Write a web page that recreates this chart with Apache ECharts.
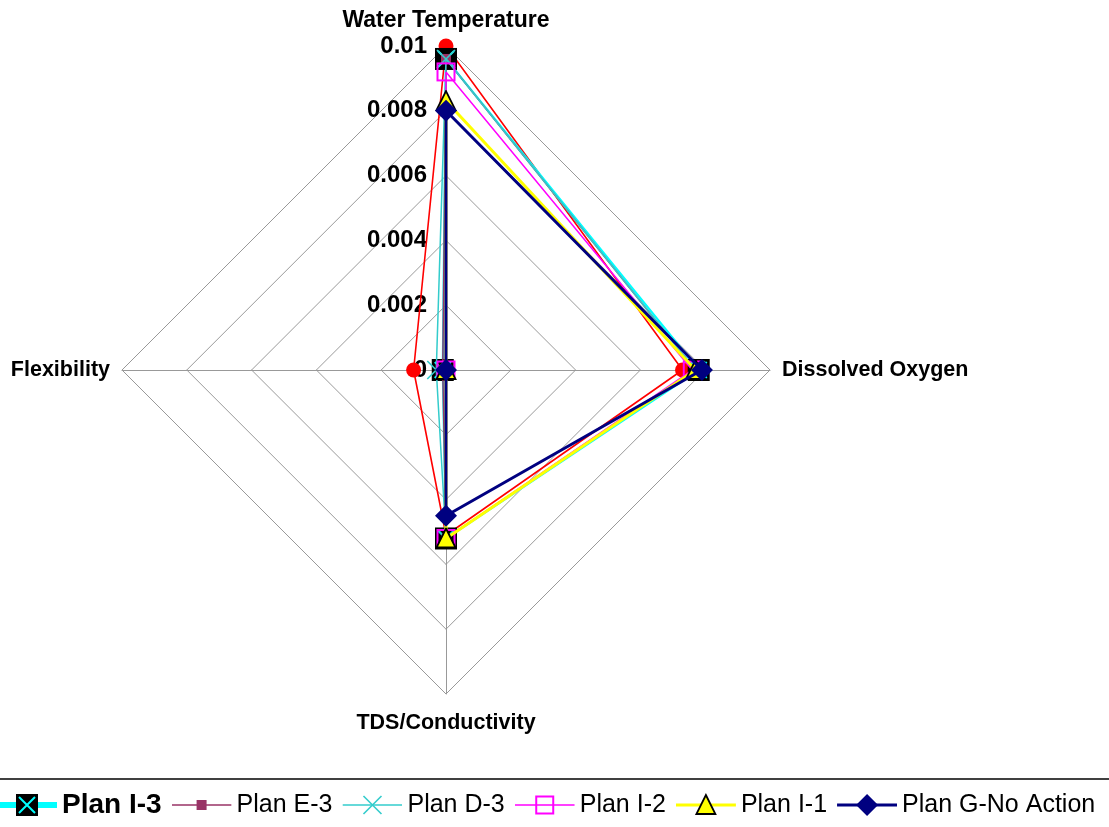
<!DOCTYPE html>
<html>
<head>
<meta charset="utf-8">
<script src="https://cdn.jsdelivr.net/npm/echarts@6/dist/echarts.min.js"></script>
<style>
  html, body { margin: 0; padding: 0; background: #fff; }
  #chart { width: 1109px; height: 827px; }
</style>
</head>
<body>
<div id="chart"></div>
<script>
// eixos (sentido anti-horário a partir do topo)
const indicadores = ["Water Temperature", "Flexibility", "TDS/Conductivity", "Dissolved Oxygen"];
const maxValor = 0.01;

// valores, na ordem dos indicadores
const planA = [0.0100, 0.0010, 0.0051, 0.0073];
const planI3 = [0.0096, 0.0001, 0.0052, 0.0078];
const planE3 = [0.0096, 0.0001, 0.0052, 0.0077];
const planD3 = [0.0096, 0.0003, 0.0052, 0.0077];
const planI2 = [0.0092, 0.0000, 0.0052, 0.0076];
const planI1 = [0.0083, 0.0000, 0.0052, 0.0077];
const planG = [0.0080, 0.0000, 0.0045, 0.0079];

const nomes = ["Plan I-3", "Plan E-3", "Plan D-3", "Plan I-2", "Plan I-1", "Plan G-No Action"];

function svgUrl(w, h, corpo) {
  const svg = `<svg xmlns="http://www.w3.org/2000/svg" width="${w}" height="${h}" viewBox="0 0 ${w} ${h}">${corpo}</svg>`;
  return "image://data:image/svg+xml;charset=utf-8," + encodeURIComponent(svg);
}

// marcadores desenhados em svg (c, d = centro)
const marcas = {
  a: (c, d) => `<circle cx="${c}" cy="${d}" r="7.5" fill="#ff0000"/>`,
  i3: (c, d) => `<rect x="${c - 11}" y="${d - 11}" width="22" height="22" fill="#000"/><path d="M${c - 8} ${d - 8}L${c + 8} ${d + 8}M${c + 8} ${d - 8}L${c - 8} ${d + 8}" stroke="#00ffff" stroke-width="2"/>`,
  e3: (c, d) => `<rect x="${c - 5}" y="${d - 5}" width="10" height="10" fill="#993366"/>`,
  d3: (c, d) => `<path d="M${c - 9} ${d - 9}L${c + 9} ${d + 9}M${c + 9} ${d - 9}L${c - 9} ${d + 9}" stroke="#33cccc" stroke-width="1.6" fill="none"/>`,
  i2: (c, d) => `<rect x="${c - 8.5}" y="${d - 8.5}" width="17" height="17" fill="none" stroke="#ff00ff" stroke-width="2"/>`,
  i1: (c, d) => `<path d="M${c} ${d - 10}L${c + 9.5} ${d + 9}L${c - 9.5} ${d + 9}Z" fill="#ffff00" stroke="#000" stroke-width="1.8" stroke-linejoin="miter"/>`,
  g: (c, d) => `<path d="M${c} ${d - 11}L${c + 11} ${d}L${c} ${d + 11}L${c - 11} ${d}Z" fill="#000080"/>`
};

function simbolo(chave, tam) {
  return svgUrl(tam, tam, marcas[chave](tam / 2, tam / 2));
}

function iconeLegenda(chave, cor, largura) {
  const w = 60, h = 26;
  return svgUrl(w, h, `<line x1="0" y1="${h / 2}" x2="${w}" y2="${h / 2}" stroke="${cor}" stroke-width="${largura}"/>` + marcas[chave](w / 2, h / 2));
}

const estilos = [
  { nome: "Plan A", dados: planA, chave: "a", cor: "#ff0000", largura: 1.6, tam: 16 },
  { nome: nomes[0], dados: planI3, chave: "i3", cor: "#00ffff", largura: 2.2, tam: 24, legLarg: 6 },
  { nome: nomes[1], dados: planE3, chave: "e3", cor: "#993366", largura: 1.5, tam: 12, legLarg: 1.6 },
  { nome: nomes[2], dados: planD3, chave: "d3", cor: "#33cccc", largura: 1.5, tam: 20, legLarg: 1.6 },
  { nome: nomes[3], dados: planI2, chave: "i2", cor: "#ff00ff", largura: 1.5, tam: 20, legLarg: 1.6 },
  { nome: nomes[4], dados: planI1, chave: "i1", cor: "#ffff00", largura: 3, tam: 22, legLarg: 3 },
  { nome: nomes[5], dados: planG, chave: "g", cor: "#000080", largura: 3, tam: 24, legLarg: 3 }
];

const chart = echarts.init(document.getElementById("chart"));

chart.setOption({
  animation: false,
  textStyle: { fontFamily: "Liberation Sans, Arial, sans-serif" },
  radar: {
    center: [446, 370],
    radius: 324,
    startAngle: 90,
    shape: "polygon",
    splitNumber: 5,
    nameGap: 12,
    axisName: {
      color: "#000", fontWeight: "bold", fontSize: 21.5,
      formatter: n => {
        if (n === "Water Temperature") return "{topo|" + n + "}";
        if (n === "TDS/Conductivity") return "{base|" + n + "}";
        return n;
      },
      rich: {
        topo: { fontSize: 23, fontWeight: "bold", color: "#000", padding: [0, 0, 2, 0] },
        base: { fontSize: 21.5, fontWeight: "bold", color: "#000", padding: [6, 0, 0, 0] }
      }
    },
    indicator: indicadores.map((n, i) => {
      const ind = { name: n, min: 0, max: maxValor };
      if (i === 0) {
        ind.axisLabel = {
          show: true, color: "#000", fontWeight: "bold", fontSize: 24, margin: 19,
          formatter: v => String(+v.toFixed(3))
        };
      }
      return ind;
    }),
    axisLine: { lineStyle: { color: "#999", width: 1 } },
    splitLine: { lineStyle: { color: "#999", width: 1 } },
    splitArea: { show: false },
    axisTick: { show: false },
    axisLabel: { show: false }
  },
  legend: {
    left: -8,
    top: 786,
    itemWidth: 60,
    itemHeight: 26,
    itemGap: 10,
    textStyle: { color: "#000", fontSize: 25 },
    data: estilos.slice(1).map(s => ({
      name: s.nome,
      icon: iconeLegenda(s.chave, s.cor, s.legLarg),
      textStyle: s.nome === "Plan I-3" ? { fontWeight: "bold", fontSize: 28 } : {}
    }))
  },
  graphic: [{
    type: "line",
    shape: { x1: 0, y1: 779, x2: 1109, y2: 779 },
    style: { stroke: "#000", lineWidth: 1.5 }
  }],
  series: estilos.map((s, i) => ({
    type: "radar",
    name: s.nome,
    z: 2 + i,
    symbol: simbolo(s.chave, s.tam),
    symbolSize: s.tam,
    lineStyle: { color: s.cor, width: s.largura },
    itemStyle: { color: s.cor },
    data: [{ value: s.dados, name: s.nome }]
  }))
});
</script>
</body>
</html>
